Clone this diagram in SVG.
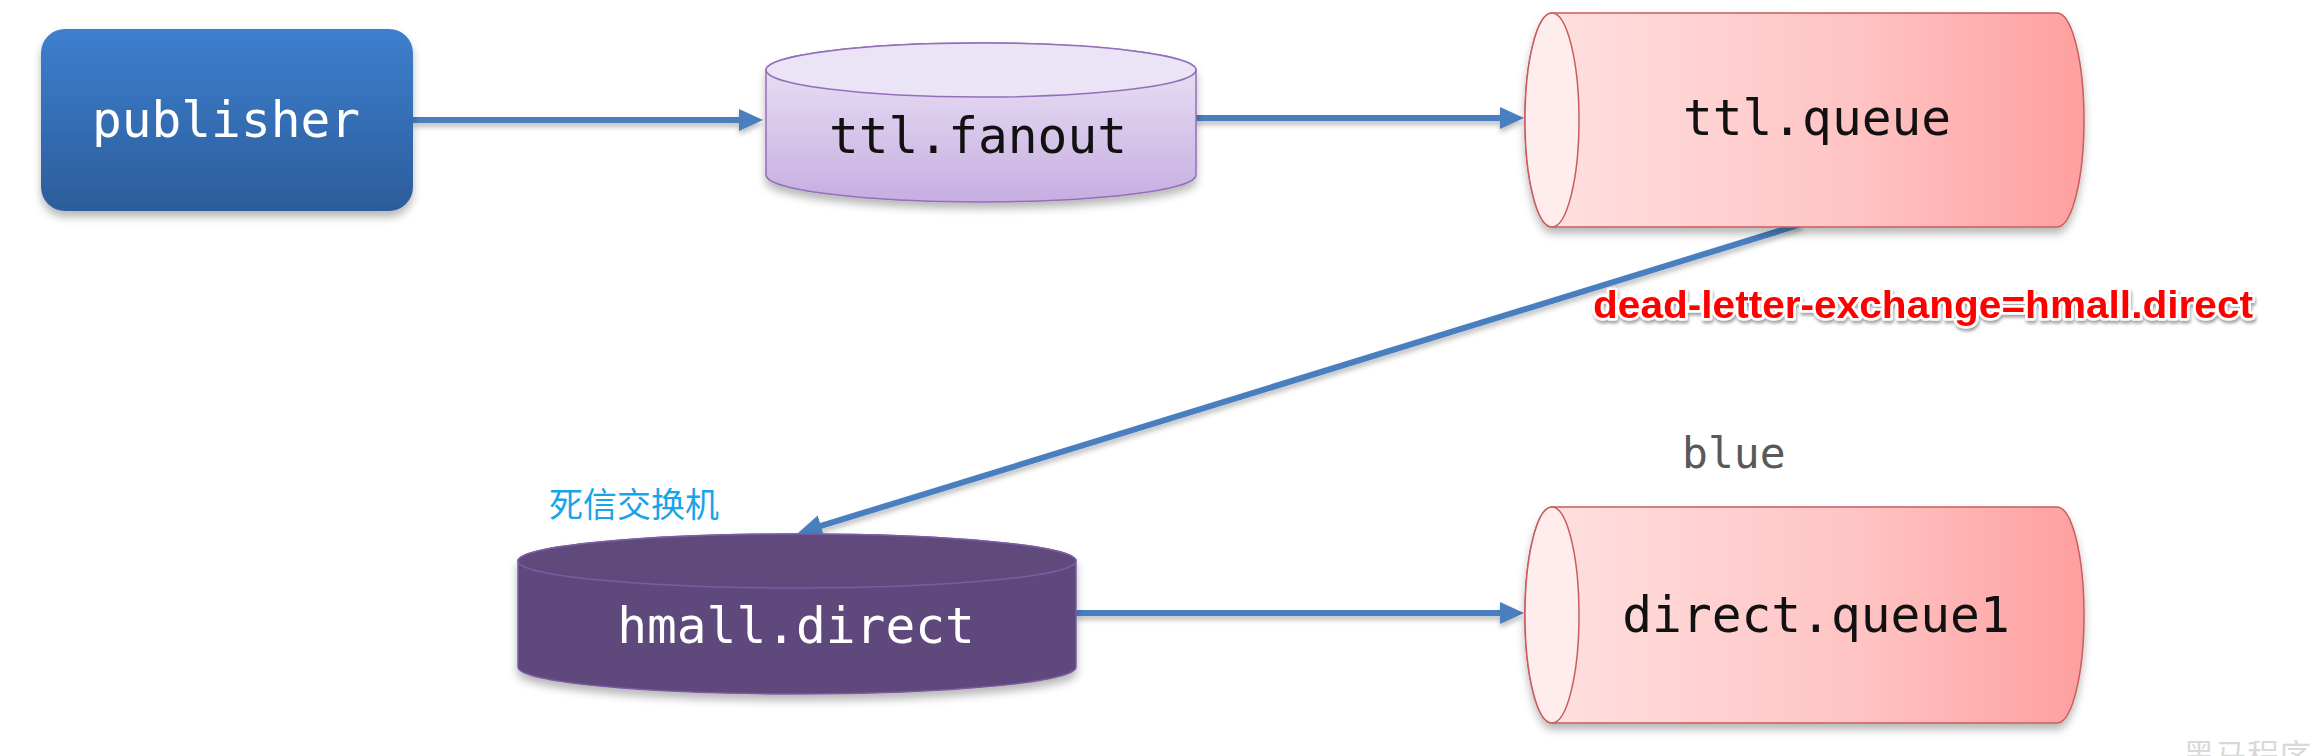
<svg xmlns="http://www.w3.org/2000/svg" width="2314" height="756" viewBox="0 0 2314 756">
<defs>
<linearGradient id="gPub" x1="0" y1="0" x2="0" y2="1">
<stop offset="0" stop-color="#3D7FCE"/>
<stop offset="1" stop-color="#2C5D9B"/>
</linearGradient>
<linearGradient id="gFan" x1="0" y1="0" x2="0" y2="1">
<stop offset="0" stop-color="#EDE6F7"/>
<stop offset="1" stop-color="#C6AEE1"/>
</linearGradient>
<linearGradient id="gQ" x1="0" y1="0" x2="1" y2="0">
<stop offset="0" stop-color="#FFE2E2"/>
<stop offset="0.6" stop-color="#FFC3C3"/>
<stop offset="1" stop-color="#FF9F9F"/>
</linearGradient>
<filter id="sh" x="-10%" y="-20%" width="120%" height="150%">
<feDropShadow dx="0" dy="6" stdDeviation="4" flood-color="#000" flood-opacity="0.28"/>
</filter>
<filter id="lsh" x="-5%" y="-50%" width="110%" height="200%">
<feDropShadow dx="0" dy="4" stdDeviation="2.5" flood-color="#000" flood-opacity="0.25"/>
</filter>
<filter id="tsh" x="-5%" y="-30%" width="110%" height="180%">
<feDropShadow dx="1" dy="3" stdDeviation="1.5" flood-color="#000" flood-opacity="0.35"/>
</filter>
<marker id="ah" markerUnits="userSpaceOnUse" markerWidth="26" markerHeight="24" refX="6" refY="11" orient="auto">
<path d="M0,0 L24,11 L0,22 Z" fill="#4A7EBF"/>
</marker>
<style>
.mono{font-family:"DejaVu Sans Mono","Liberation Mono",monospace;font-size:49.5px;text-anchor:middle}
.conn{stroke:#4A7EBF;stroke-width:6;fill:none;marker-end:url(#ah)}
.qbody{fill:url(#gQ);stroke:#C85C5C;stroke-width:1.5}
.qface{fill:#FFEDED;stroke:#C85C5C;stroke-width:1.5}
</style>
</defs>
<rect width="2314" height="756" fill="#FFFFFF"/>

<g id="connectors" filter="url(#lsh)">
<line class="conn" x1="413" y1="120" x2="745" y2="120"/>
<line class="conn" x1="1196" y1="118" x2="1506" y2="118"/>
<line class="conn" x1="1802" y1="224" x2="815.2" y2="527.7"/>
<line class="conn" x1="1076" y1="613" x2="1506" y2="613"/>
</g>

<g id="publisher">
<rect x="41" y="29" width="372" height="182" rx="24" fill="url(#gPub)" filter="url(#sh)"/>
<text class="mono" x="226" y="137" fill="#FFFFFF">publisher</text>
</g>

<g id="ttl-fanout">
<g filter="url(#sh)">
<path d="M766,70 L766,175 A215,27 0 0 0 1196,175 L1196,70 A215,27 0 0 0 766,70 Z" fill="url(#gFan)" stroke="#9270B8" stroke-width="1.5"/>
</g>
<ellipse cx="981" cy="70" rx="215" ry="27" fill="#EBE4F6" stroke="#9270B8" stroke-width="1.5"/>
<text class="mono" x="978" y="153" fill="#111111">ttl.fanout</text>
</g>

<g id="ttl-queue">
<path class="qbody" filter="url(#sh)" d="M1552,13 L2057,13 A27,107 0 0 1 2057,227 L1552,227 A27,107 0 0 1 1552,13 Z"/>
<ellipse class="qface" cx="1552" cy="120" rx="27" ry="107"/>
<text class="mono" x="1817" y="135" fill="#111111">ttl.queue</text>
</g>

<g id="dlx-label">
<text x="1593" y="318" textLength="660" lengthAdjust="spacingAndGlyphs" font-family="'Liberation Sans',Arial,sans-serif" font-weight="bold" font-size="38" fill="#FF0000" stroke="#FFFFFF" stroke-width="5" paint-order="stroke" stroke-linejoin="round" filter="url(#tsh)">dead-letter-exchange=hmall.direct</text>
</g>

<g id="dlx-note">
<text x="549" y="517" font-family="'Noto Sans CJK SC','Noto Sans',sans-serif" font-size="34" fill="#19A3E8">死信交换机</text>
</g>

<g id="hmall-direct">
<g filter="url(#sh)">
<path d="M518,561 L518,667 A279,27 0 0 0 1076,667 L1076,561 A279,27 0 0 0 518,561 Z" fill="#5F4A7B" stroke="#7A5C9E" stroke-width="1.5"/>
</g>
<ellipse cx="797" cy="561" rx="279" ry="27" fill="#5F4A7B" stroke="#7A5EA2" stroke-width="1.5"/>
<text class="mono" x="796" y="643" fill="#FFFFFF">hmall.direct</text>
</g>

<g id="routing-key">
<text x="1682" y="468" font-family="'DejaVu Sans Mono','Liberation Mono',monospace" font-size="43" fill="#595959">blue</text>
</g>

<g id="direct-queue1">
<path class="qbody" filter="url(#sh)" d="M1552,507 L2057,507 A27,108 0 0 1 2057,723 L1552,723 A27,108 0 0 1 1552,507 Z"/>
<ellipse class="qface" cx="1552" cy="615" rx="27" ry="108"/>
<text class="mono" x="1816" y="632" fill="#111111">direct.queue1</text>
</g>

<g id="watermark">
<text x="2183" y="767" font-family="'Noto Sans CJK SC',sans-serif" font-size="32" fill="#D9D9D9">黑马程序</text>
</g>
</svg>
